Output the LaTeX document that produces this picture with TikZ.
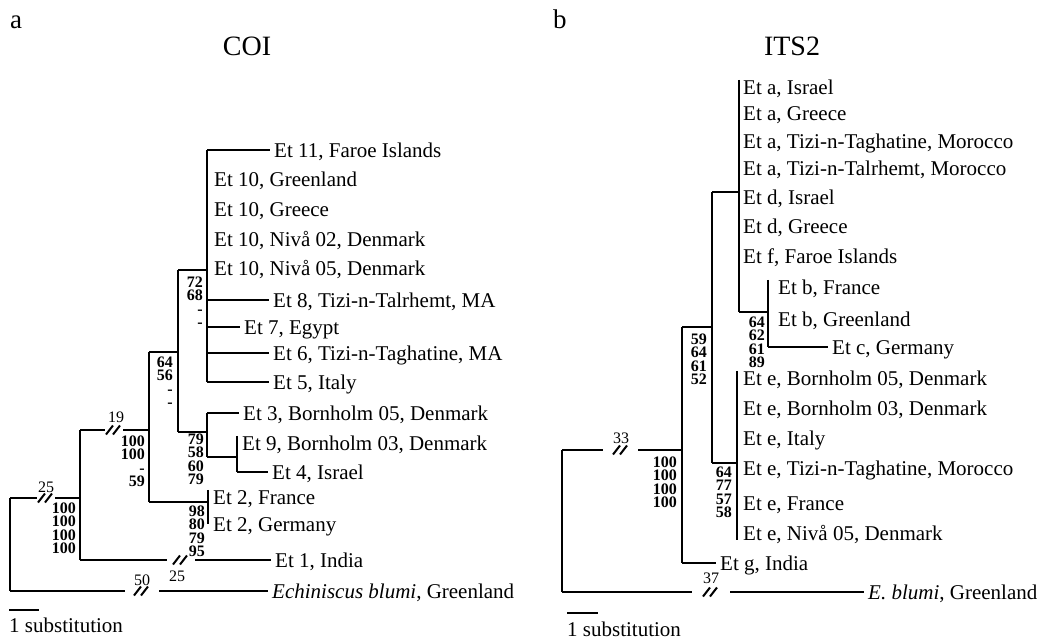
\documentclass[tikz,border=0pt]{standalone}
\usepackage{fontspec}
\setmainfont{Liberation Serif}
\newcommand{\slashmark}[1]{%
 \draw[line width=2pt] ([shift={(-8,4.5)}]#1) -- ++(7,-9)
  ([shift={(-1,4.5)}]#1) -- ++(7,-9);}
\begin{document}
\begin{tikzpicture}[
 x=1pt,y=-1pt,
 branch/.style={line width=2.8pt},
 leaf/.style={anchor=west,inner xsep=4pt,inner ysep=0pt,
  text height=14pt,text depth=0pt,font=\fontsize{21}{25}\selectfont},
 support/.style={anchor=north east,inner sep=0pt,align=right,
  font=\fontsize{16}{13.5}\selectfont\bfseries},
 blen/.style={inner sep=0pt,font=\fontsize{16}{18}\selectfont},
 panel/.style={anchor=base west,inner sep=0pt,font=\fontsize{27}{30}\selectfont},
 gene/.style={anchor=base,inner sep=0pt,font=\fontsize{28}{30}\selectfont}
]
 \useasboundingbox (0,0) rectangle (1044,637);

 % a: COI
 \node[panel] (pa) at (10,28) {a};
 \node[gene] (coi) at (247,55) {COI};

 \coordinate (rL) at (10,498);
 \coordinate (nA) at (80,498);
 \coordinate (nB) at (149,430);
 \coordinate (nC) at (178,352);
 \coordinate (nE) at (207,270);
 \coordinate (nD) at (207,432);
 \coordinate (nF) at (237,457);
 \coordinate (nT) at (208,502);
 \coordinate (k1) at (46,498);
 \coordinate (k2) at (114,430);
 \coordinate (k3) at (181,560);
 \coordinate (k4) at (142,591);

 \node[leaf] (et11) at (270,150) {Et 11, Faroe Islands};
 \node[leaf] (et10a) at (210,179) {Et 10, Greenland};
 \node[leaf] (et10b) at (210,209) {Et 10, Greece};
 \node[leaf] (et10c) at (210,239) {Et 10, Nivå 02, Denmark};
 \node[leaf] (et10d) at (210,268) {Et 10, Nivå 05, Denmark};
 \node[leaf] (et8) at (269,300) {Et 8, Tizi-n-Talrhemt, MA};
 \node[leaf] (et7) at (240,327) {Et 7, Egypt};
 \node[leaf] (et6) at (269,353) {Et 6, Tizi-n-Taghatine, MA};
 \node[leaf] (et5) at (269,382) {Et 5, Italy};
 \node[leaf] (et3) at (239,413) {Et 3, Bornholm 05, Denmark};
 \node[leaf] (et9) at (238,443) {Et 9, Bornholm 03, Denmark};
 \node[leaf] (et4) at (268,472) {Et 4, Israel};
 \node[leaf] (et2a) at (209,497) {Et 2, France};
 \node[leaf] (et2b) at (209,524) {Et 2, Germany};
 \node[leaf] (et1) at (271,560) {Et 1, India};
 \node[leaf] (eblum) at (268,591) {\textit{Echiniscus blumi}, Greenland};

 \draw[branch] (rL) -- (rL |- eblum);
 \draw[branch] (rL) -- ([xshift=-9]k1) ([xshift=9]k1) -- (nA);
 \draw[branch] (rL |- eblum) -- ([xshift=-17]k4) ([xshift=17]k4) -- (eblum.west);
 \draw[branch] (nA |- nB) -- (nA |- et1);
 \draw[branch] (nA |- nB) -- ([xshift=-9]k2) ([xshift=9]k2) -- (nB);
 \draw[branch] (nA |- et1) -- ([xshift=-14]k3) ([xshift=14]k3) -- (et1.west);
 \draw[branch] (nB |- nC) -- (nB |- nT);
 \draw[branch] (nB |- nC) -- (nC);
 \draw[branch] (nB |- nT) -- (nT);
 \draw[branch] (nC |- nE) -- (nC |- nD);
 \draw[branch] (nC |- nE) -- (nE);
 \draw[branch] (nC |- nD) -- (nD);
 \draw[branch] (nE |- et11) -- (nE |- et5);
 \draw[branch] (nE |- et11) -- (et11.west);
 \draw[branch] (nE |- et8) -- (et8.west);
 \draw[branch] (nE |- et7) -- (et7.west);
 \draw[branch] (nE |- et6) -- (et6.west);
 \draw[branch] (nE |- et5) -- (et5.west);
 \draw[branch] (nD |- et3) -- (nD |- nF);
 \draw[branch] (nD |- et3) -- (et3.west);
 \draw[branch] (nD |- nF) -- (nF);
 \draw[branch] (nF |- et9.north) -- (nF |- et4);
 \draw[branch] (nF |- et4) -- (et4.west);
 \draw[branch] (nT |- et2a.north) -- (nT |- et2b);
 \slashmark{k1}
 \slashmark{k2}
 \slashmark{k3}
 \slashmark{k4}

 \node[blen] (b1) at (46,487) {25};
 \node[blen] (b2) at (116,417) {19};
 \node[blen] (b3) at (177,576) {25};
 \node[blen] (b4) at (142,580) {50};

 \node[support] (sA) at (76,502.5) {100\\100\\100\\100};
 \node[support] (sB) at (145,435.5) {100\\100\\-\\59};
 \node[support] (sC) at (173,356.5) {64\\56\\-\\-};
 \node[support] (sE) at (203,276.5) {72\\68\\-\\-};
 \node[support] (sD) at (204,433.5) {79\\58\\60\\79};
 \node[support] (sT) at (205,505.5) {98\\80\\79\\95};

 \coordinate (sb1) at (9,610);
 \coordinate (sb2) at (39,610);
 \draw[line width=2.4pt] (sb1) -- (sb2);
 \node[leaf,inner xsep=0pt] (sbl) at (9,625) {1 substitution};

 % b: ITS2
 \node[panel] (pb) at (553,28) {b};
 \node[gene] (its) at (792,55) {ITS2};

 \coordinate (rR) at (562,450);
 \coordinate (nG) at (682,450);
 \coordinate (nH) at (712,327);
 \coordinate (nI) at (739,192);
 \coordinate (nK) at (768,312);
 \coordinate (nJ) at (737,463);
 \coordinate (k5) at (621,450);
 \coordinate (k6) at (711,592);

 \node[leaf] (ia1) at (739,87) {Et a, Israel};
 \node[leaf] (ia2) at (739,113) {Et a, Greece};
 \node[leaf] (ia3) at (739,141) {Et a, Tizi-n-Taghatine, Morocco};
 \node[leaf] (ia4) at (739,168) {Et a, Tizi-n-Talrhemt, Morocco};
 \node[leaf] (id1) at (739,197) {Et d, Israel};
 \node[leaf] (id2) at (739,226) {Et d, Greece};
 \node[leaf] (if1) at (739,256) {Et f, Faroe Islands};
 \node[leaf] (ib1) at (774,287) {Et b, France};
 \node[leaf] (ib2) at (774,319) {Et b, Greenland};
 \node[leaf] (ic1) at (828,347) {Et c, Germany};
 \node[leaf] (ie1) at (739,378) {Et e, Bornholm 05, Denmark};
 \node[leaf] (ie2) at (739,408) {Et e, Bornholm 03, Denmark};
 \node[leaf] (ie3) at (739,438) {Et e, Italy};
 \node[leaf] (ie4) at (739,468) {Et e, Tizi-n-Taghatine, Morocco};
 \node[leaf] (ie5) at (739,503) {Et e, France};
 \node[leaf] (ie6) at (739,533) {Et e, Nivå 05, Denmark};
 \node[leaf] (ig1) at (716,563) {Et g, India};
 \node[leaf] (iblum) at (864,592) {\textit{E. blumi}, Greenland};

 \draw[branch] (rR) -- (rR |- iblum);
 \draw[branch] (rR) -- ([xshift=-18]k5) ([xshift=17]k5) -- (nG);
 \draw[branch] (rR |- iblum) -- ([xshift=-19]k6) ([xshift=19]k6) -- (iblum.west);
 \draw[branch] (nG |- nH) -- (nG |- ig1);
 \draw[branch] (nG |- nH) -- (nH);
 \draw[branch] (nG |- ig1) -- (ig1.west);
 \draw[branch] (nH |- nI) -- (nH |- nJ);
 \draw[branch] (nH |- nI) -- (nI);
 \draw[branch] (nH |- nJ) -- (nJ);
 \draw[branch] (nI |- ia1.north) -- (nI |- nK);
 \draw[branch] (nI |- nK) -- (nK);
 \draw[branch] (nK |- ib1.north) -- (nK |- ic1);
 \draw[branch] (nK |- ic1) -- (ic1.west);
 \draw[branch] (nJ |- ie1.north) -- (nJ |- ie6.south);
 \slashmark{k5}
 \slashmark{k6}

 \node[blen] (b5) at (621,438) {33};
 \node[blen] (b6) at (711,578) {37};

 \node[support] (sG) at (677,456.5) {100\\100\\100\\100};
 \node[support] (sH) at (707,333.5) {59\\64\\61\\52};
 \node[support] (sK) at (765,316.5) {64\\62\\61\\89};
 \node[support] (sJ) at (732,466.5) {64\\77\\57\\58};

 \coordinate (sb3) at (567,613);
 \coordinate (sb4) at (598,613);
 \draw[line width=2.4pt] (sb3) -- (sb4);
 \node[leaf,inner xsep=0pt] (sbr) at (567,629) {1 substitution};
\end{tikzpicture}
\end{document}
